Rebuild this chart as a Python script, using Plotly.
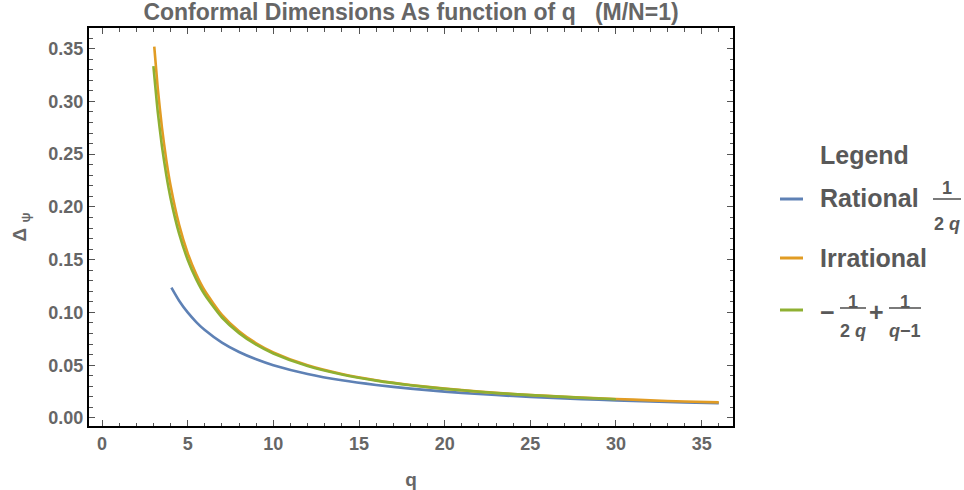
import plotly.graph_objects as go

# ---------------- data ----------------
q_rational = [4.05, 4.5, 5, 5.5, 6, 7, 8, 9, 10, 12, 14, 16, 18, 20, 22, 24, 26, 28, 30, 32, 34, 36]
d_rational = [0.1235, 0.1111, 0.1000, 0.0909, 0.0833, 0.0714, 0.0625, 0.0556, 0.0500, 0.0417,
              0.0357, 0.0313, 0.0278, 0.0250, 0.0227, 0.0208, 0.0192, 0.0179, 0.0167, 0.0156,
              0.0147, 0.0139]

q_irrational = [3.05, 3.25, 3.5, 3.75, 4, 4.5, 5, 5.5, 6, 7, 8, 9, 10, 12, 14, 16, 18, 20, 22,
                24, 26, 28, 30, 32, 34, 36]
d_irrational = [0.3518, 0.3131, 0.2749, 0.2446, 0.2202, 0.1829, 0.1562, 0.1361, 0.1205, 0.0977,
                0.0822, 0.0708, 0.0622, 0.0499, 0.0417, 0.0358, 0.0313, 0.0278, 0.0250, 0.0227,
                0.0209, 0.0193, 0.0180, 0.0167, 0.0156, 0.0148]

q_approx = [3, 3.25, 3.5, 3.75, 4, 4.5, 5, 5.5, 6, 7, 8, 9, 10, 12, 14, 16, 18, 20, 22, 24, 26, 28, 30]
d_approx = [0.3333, 0.2906, 0.2571, 0.2303, 0.2083, 0.1746, 0.1500, 0.1313, 0.1167, 0.0952,
            0.0804, 0.0694, 0.0611, 0.0492, 0.0412, 0.0354, 0.0310, 0.0276, 0.0249, 0.0226,
            0.0208, 0.0192, 0.0178]

x_ticks = [0, 5, 10, 15, 20, 25, 30, 35]
y_ticks = [0.00, 0.05, 0.10, 0.15, 0.20, 0.25, 0.30, 0.35]

title_text = "Conformal Dimensions As function of q   (M/N=1)"
series_colors = ["#5E81B5", "#E19C24", "#8FB032"]

# ---------------- figure ----------------
W, H = 964, 490
L, R, T, B = 89, 231, 28, 64
PW, PH = W - L - R, H - T - B


def px(x):
    return (x - L) / PW


def py(y):
    return (H - B - y) / PH


FONT = "Liberation Sans, Arial, Helvetica, sans-serif"
GRAY = "#666666"
LEG = "#595959"

fig = go.Figure()
for xs, ys, c in [(q_rational, d_rational, series_colors[0]),
                  (q_irrational, d_irrational, series_colors[1]),
                  (q_approx, d_approx, series_colors[2])]:
    fig.add_trace(go.Scatter(x=xs, y=ys, mode="lines",
                             line=dict(color=c, width=2.6, shape="spline", smoothing=0.6),
                             showlegend=False, hoverinfo="skip"))

axis_common = dict(
    showline=True, linecolor="black", linewidth=2, mirror="ticks",
    ticks="inside", ticklen=6, tickwidth=1.2, tickcolor="#555555",
    showgrid=False, zeroline=False, automargin=False,
    tickfont=dict(family=FONT, size=18, color=GRAY, weight="bold"),
)

fig.update_xaxes(range=[-0.76, 36.83], tickvals=x_ticks,
                 minor=dict(dtick=1, tick0=0, ticks="inside", ticklen=3.5, tickwidth=1, tickcolor="#555555"),
                 title=dict(text="q", font=dict(family=FONT, size=19, color=GRAY, weight="bold"), standoff=20),
                 **axis_common)
fig.update_yaxes(range=[-0.0076, 0.3695], tickvals=y_ticks, tickformat=".2f",
                 minor=dict(dtick=0.01, tick0=0, ticks="inside", ticklen=3.5, tickwidth=1, tickcolor="#555555"),
                 title=dict(text="Δ <sub>ψ</sub>", font=dict(family=FONT, size=19, color=GRAY, weight="bold"), standoff=17),
                 **axis_common)

annotations = []
shapes = []


def text(x, y, s, size, xanchor="left", color=LEG):
    annotations.append(dict(x=px(x), y=py(y), xref="paper", yref="paper", text=s,
                            showarrow=False, xanchor=xanchor, yanchor="middle",
                            font=dict(family=FONT, size=size, color=color, weight="bold")))


def hline(x0, x1, y, color, width):
    shapes.append(dict(type="line", xref="paper", yref="paper", x0=px(x0), x1=px(x1),
                       y0=py(y), y1=py(y), line=dict(color=color, width=width)))


# legend
text(818, 155, "Legend", 25)
hline(780, 803, 199, series_colors[0], 3)
text(818, 198, "Rational", 25)
hline(933, 961, 199, LEG, 1.6)
text(947, 188, "1", 18, xanchor="center")
text(947, 224, "2 <i>q</i>", 18, xanchor="center")

hline(780, 803, 258, series_colors[1], 3)
text(818, 258, "Irrational", 25)

hline(780, 803, 310, series_colors[2], 3)
text(827, 312, "−", 25, xanchor="center")
hline(840, 866, 308, LEG, 1.6)
text(853, 302, "1", 18, xanchor="center")
text(853, 331, "2 <i>q</i>", 18, xanchor="center")
text(876, 312, "+", 25, xanchor="center")
hline(889, 921, 308, LEG, 1.6)
text(905, 302, "1", 18, xanchor="center")
text(905, 331, "<i>q</i>−1", 18, xanchor="center")

fig.update_layout(
    width=W, height=H,
    margin=dict(l=L, r=R, t=T, b=B, pad=0, autoexpand=False),
    paper_bgcolor="white", plot_bgcolor="white",
    title=dict(text=title_text, xref="paper", x=px(411), xanchor="center",
               yref="container", y=1 - 12 / H, yanchor="middle",
               font=dict(family=FONT, size=23, color=GRAY, weight="bold")),
    annotations=annotations, shapes=shapes,
    showlegend=False,
)

fig.write_html("out.html", config={"displayModeBar": False},
               post_script="document.body.style.margin='0px';")
